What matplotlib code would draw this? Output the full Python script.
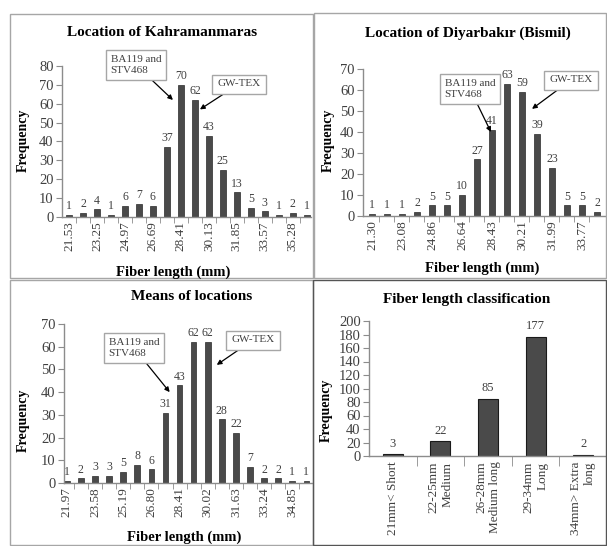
import matplotlib
matplotlib.use('Agg')
import matplotlib.pyplot as plt
from matplotlib.patches import Rectangle

plt.rcParams['font.family'] = ['Liberation Serif', 'DejaVu Serif']

W, H = 607, 546

# data
kah_vals = [1, 2, 4, 1, 6, 7, 6, 37, 70, 62, 43, 25, 13, 5, 3, 1, 2, 1]
kah_ticks = ['21.53', '23.25', '24.97', '26.69', '28.41', '30.13', '31.85', '33.57', '35.28']

diy_vals = [1, 1, 1, 2, 5, 5, 10, 27, 41, 63, 59, 39, 23, 5, 5, 2]
diy_ticks = ['21.30', '23.08', '24.86', '26.64', '28.43', '30.21', '31.99', '33.77']

mean_vals = [1, 2, 3, 3, 5, 8, 6, 31, 43, 62, 62, 28, 22, 7, 2, 2, 1, 1]
mean_ticks = ['21.97', '23.58', '25.19', '26.80', '28.41', '30.02', '31.63', '33.24', '34.85']

class_names = ['21mm< Short', '22-25mm\nMedium', '26-28mm\nMedium long', '29-34mm\nLong', '34mm> Extra\nlong']
class_vals = [3, 22, 85, 177, 2]

BAR = '#4a4a4a'
AX = '#8c8c8c'
TXT = '#404040'


def px_axes(left, top, right, bottom):
    return fig.add_axes([left / W, 1 - bottom / H, (right - left) / W, (bottom - top) / H])


def ftext(x, y, s, **kw):
    fig.text(x / W, 1 - y / H, s, ha='center', va='center', **kw)


def style(ax, ymax, ystep):
    for s in ['top', 'right']:
        ax.spines[s].set_visible(False)
    for s in ['left', 'bottom']:
        ax.spines[s].set_color(AX)
        ax.spines[s].set_linewidth(1.0)
    ax.set_ylim(0, ymax)
    ax.set_yticks(range(0, ymax + 1, ystep))
    ax.tick_params(axis='y', direction='out', length=4, color=AX, labelsize=10.5,
                   labelcolor=TXT, pad=2)
    ax.tick_params(axis='x', which='both', direction='out', color=AX, labelcolor=TXT)


def histo(ax, vals, labels, xlim, ymax, ystep):
    n = len(vals)
    x = list(range(n))
    bars = ax.bar(x, vals, width=0.4, color=BAR, edgecolor='#2a2a2a', linewidth=0.5)
    ax.bar_label(bars, padding=2, fontsize=8.5, color=TXT)
    style(ax, ymax, ystep)
    ax.set_xlim(*xlim)
    ax.set_xticks(x[::2])
    ax.set_xticklabels(labels, rotation=90, fontsize=9.5)
    ax.tick_params(axis='x', which='major', length=0, pad=3)
    ax.set_xticks([i + 0.5 for i in range(n - 1)], minor=True)
    ax.tick_params(axis='x', which='minor', length=4)


def note(ax, txt, tip, center):
    ax.annotate(txt, xy=tip, xycoords='data', xytext=(center[0], H - center[1]),
                textcoords='figure pixels', ha='center', va='center', fontsize=8,
                color=TXT, multialignment='left',
                bbox=dict(boxstyle='square,pad=0.45', fc='white', ec='#a6a6a6', lw=1),
                arrowprops=dict(arrowstyle='-|>', color='black', lw=0.9, mutation_scale=7,
                                shrinkA=0, shrinkB=0),
                annotation_clip=False)


fig = plt.figure(figsize=(W / 100, H / 100), dpi=100)

# panel frames
for (l, t, r, b, c) in [(10, 14, 313, 278, '#a6a6a6'), (314, 13, 606, 278, '#a6a6a6'),
                        (10, 280, 313, 545, '#a6a6a6'), (313, 280, 606, 545, '#555555')]:
    fig.patches.append(Rectangle((l / W, 1 - b / H), (r - l) / W, (b - t) / H,
                                 transform=fig.transFigure, fill=False, ec=c, lw=1))

# Kahramanmaras
ax1 = px_axes(62, 66, 311, 217)
histo(ax1, kah_vals, kah_ticks, (-0.5, 17.3), 80, 10)
note(ax1, 'BA119 and\nSTV468', (7.43, 62), (136, 65))
note(ax1, 'GW-TEX', (9.36, 57), (239, 84))
ftext(162, 33, 'Location of Kahramanmaras', fontsize=11, fontweight='bold')
ftext(173, 272, 'Fiber length (mm)', fontsize=10.5, fontweight='bold')
ftext(23, 140, 'Frequency', fontsize=10, fontweight='bold', rotation=90)

# Diyarbakir
ax2 = px_axes(363, 69, 607, 216)
histo(ax2, diy_vals, diy_ticks, (-0.6, 15.67), 70, 10)
note(ax2, 'BA119 and\nSTV468', (7.93, 40), (470, 89))
note(ax2, 'GW-TEX', (10.67, 51), (571, 80))
ftext(468, 33, 'Location of Diyarbakır (Bismil)', fontsize=11, fontweight='bold')
ftext(482, 268, 'Fiber length (mm)', fontsize=10.5, fontweight='bold')
ftext(328, 140, 'Frequency', fontsize=10, fontweight='bold', rotation=90)

# means
ax3 = px_axes(64, 324, 312, 483)
histo(ax3, mean_vals, mean_ticks, (-0.2, 17.4), 70, 10)
note(ax3, 'BA119 and\nSTV468', (7.3, 40), (134, 348))
note(ax3, 'GW-TEX', (10.64, 52), (253, 340))
ftext(192, 297, 'Means of locations', fontsize=11, fontweight='bold')
ftext(184, 537, 'Fiber length (mm)', fontsize=10.5, fontweight='bold')
ftext(23, 420, 'Frequency', fontsize=10, fontweight='bold', rotation=90)

# classification
ax4 = px_axes(369, 321, 607, 456)
xc = list(range(len(class_vals)))
bars = ax4.bar(xc, class_vals, width=0.42, color=BAR, edgecolor='#1a1a1a', linewidth=0.8)
ax4.bar_label(bars, padding=3, fontsize=9, color=TXT)
style(ax4, 200, 20)
ax4.set_xlim(-0.5, 4.43)
ax4.set_xticks(xc)
ax4.set_xticklabels(class_names, rotation=90, fontsize=9.5, va='top', multialignment='right')
ax4.tick_params(axis='x', which='major', length=0, pad=4)
ax4.set_xticks([i + 0.5 for i in xc], minor=True)
ax4.tick_params(axis='x', which='minor', length=7)
ftext(467, 299, 'Fiber length classification', fontsize=11, fontweight='bold')
ftext(326, 410, 'Frequency', fontsize=10, fontweight='bold', rotation=90)

fig.savefig('out.png', dpi=100)
